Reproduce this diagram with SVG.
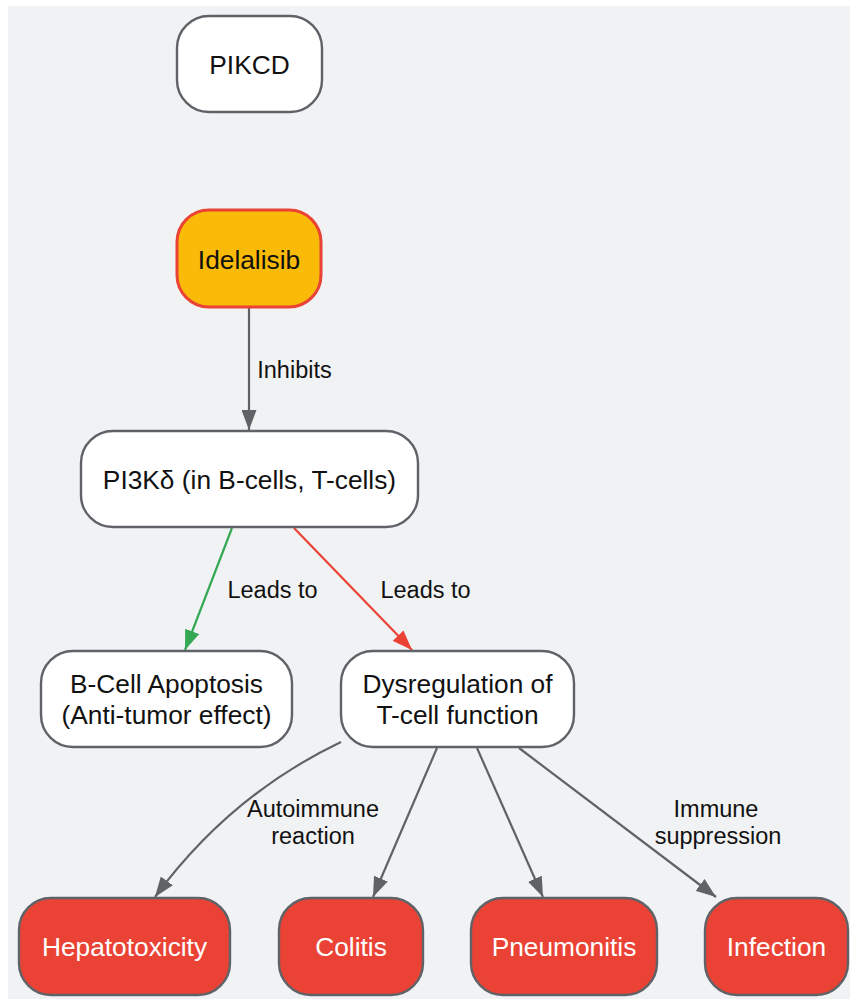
<svg xmlns="http://www.w3.org/2000/svg" width="850" height="999" viewBox="0 0 850 999">
<style>
.bg{fill:#f1f2f4}
.node rect{fill:#ffffff;stroke:#5f6368;stroke-width:2.4}
.node text{font-family:"Liberation Sans",Arial,sans-serif;font-size:26.3px;fill:#111111;text-anchor:middle}
.drug rect{fill:#f9bb08;stroke:#ea4335;stroke-width:3}
.bad rect{fill:#ea4335;stroke:#5f6368;stroke-width:2.4}
.bad text{fill:#ffffff}
.edge{fill:none;stroke-width:2.2}
.gray{stroke:#5f6368}
.green{stroke:#34a853}
.red{stroke:#ea4335}
.lbl{font-family:"Liberation Sans",Arial,sans-serif;font-size:23.5px;fill:#111111;text-anchor:middle}
</style>
<defs>
<marker id="ag" viewBox="0 0 20 15" refX="20" refY="7.5" markerWidth="20" markerHeight="15" markerUnits="userSpaceOnUse" orient="auto"><path d="M0,0 L20,7.5 L0,15 z" fill="#5f6368"/></marker>
<marker id="agr" viewBox="0 0 20 15" refX="20" refY="7.5" markerWidth="20" markerHeight="15" markerUnits="userSpaceOnUse" orient="auto"><path d="M0,0 L20,7.5 L0,15 z" fill="#34a853"/></marker>
<marker id="ar" viewBox="0 0 20 15" refX="20" refY="7.5" markerWidth="20" markerHeight="15" markerUnits="userSpaceOnUse" orient="auto"><path d="M0,0 L20,7.5 L0,15 z" fill="#ea4335"/></marker>
</defs>
<rect class="bg" x="8" y="6" width="842" height="993"/>
<g id="connectors">
<path class="edge gray" d="M249,307 L249,430" marker-end="url(#ag)"/>
<path class="edge green" d="M232,528 L185,650" marker-end="url(#agr)"/>
<path class="edge red" d="M294,528 L412,650" marker-end="url(#ar)"/>
<path class="edge gray" d="M341,742 Q230,795 155,897" marker-end="url(#ag)"/>
<path class="edge gray" d="M437,748 L373,897" marker-end="url(#ag)"/>
<path class="edge gray" d="M477,748 L543,897" marker-end="url(#ag)"/>
<path class="edge gray" d="M519,748 L716,897" marker-end="url(#ag)"/>
<text class="lbl" x="294.5" y="378">Inhibits</text>
<text class="lbl" x="272.5" y="598">Leads to</text>
<text class="lbl" x="425.5" y="598">Leads to</text>
<text class="lbl" x="313" y="817">Autoimmune</text>
<text class="lbl" x="313" y="843.5">reaction</text>
<text class="lbl" x="716" y="817">Immune</text>
<text class="lbl" x="718" y="844">suppression</text>
</g>
<g id="pikcd" class="node"><rect x="177" y="16" width="145" height="96" rx="32"/><text x="249.5" y="74">PIKCD</text></g>
<g id="idelalisib" class="node drug"><rect x="177" y="210" width="144" height="97" rx="32"/><text x="249" y="269">Idelalisib</text></g>
<g id="pi3kd" class="node"><rect x="81" y="431" width="337" height="96" rx="32"/><text x="249.5" y="489">PI3Kδ (in B-cells, T-cells)</text></g>
<g id="bcell" class="node"><rect x="41" y="651" width="251" height="96" rx="32"/><text x="166.5" y="693">B-Cell Apoptosis</text><text x="166.5" y="724">(Anti-tumor effect)</text></g>
<g id="dysreg" class="node"><rect x="341" y="651" width="233" height="96" rx="32"/><text x="457.5" y="693">Dysregulation of</text><text x="457.5" y="724">T-cell function</text></g>
<g id="hepato" class="node bad"><rect x="19" y="898" width="211" height="97" rx="32"/><text x="124.5" y="956">Hepatotoxicity</text></g>
<g id="colitis" class="node bad"><rect x="279" y="898" width="144" height="97" rx="32"/><text x="351" y="956">Colitis</text></g>
<g id="pneumonitis" class="node bad"><rect x="471" y="898" width="186" height="97" rx="32"/><text x="564" y="956">Pneumonitis</text></g>
<g id="infection" class="node bad"><rect x="705" y="898" width="143" height="97" rx="32"/><text x="776.5" y="956">Infection</text></g>
</svg>
